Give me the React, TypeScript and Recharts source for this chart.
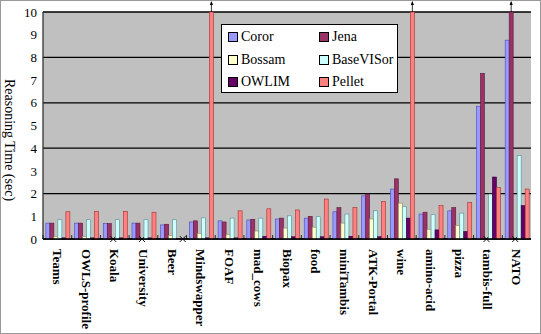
import React from "react";
import { Bar, BarChart, CartesianGrid, XAxis, YAxis } from "recharts";

const categories = [
  "Teams", "OWLS-profile", "Koala", "University", "Beer", "Mindswapper", "FOAF",
  "mad_cows", "Biopax", "food", "miniTambis", "ATK-Portal", "wine", "amino-acid",
  "pizza", "tambis-full", "NATO",
];

// null = not measured (drawn as a cross on the axis); values above 10 leave the axis
const coror = [0.7, 0.7, 0.68, 0.7, 0.62, 0.75, 0.8, 0.84, 0.88, 0.92, 1.2, 1.9, 2.2, 1.1, 1.24, 5.85, 8.76];
const jena = [0.7, 0.7, 0.68, 0.7, 0.65, 0.8, 0.75, 0.87, 0.92, 1.0, 1.38, 1.98, 2.65, 1.18, 1.38, 7.3, 10.8];
const bossam = [0.1, 0.1, null, null, 0.15, 0.25, 0.2, 0.35, 0.48, 0.52, 0.7, 0.88, 1.58, 0.43, 0.6, null, null];
const baseVISor = [0.85, 0.85, 0.85, 0.85, 0.85, 0.93, 0.92, 0.92, 1.02, 0.98, 1.1, 1.24, 1.42, 1.07, 1.14, 1.98, 3.67];
const owlim = [0.05, 0.05, 0.05, 0.05, 0.03, 0.05, 0.05, 0.12, 0.1, 0.1, 0.12, 0.1, 0.92, 0.4, 0.33, 2.73, 1.47];
const pellet = [1.2, 1.22, 1.22, 1.18, null, 10.8, 1.24, 1.33, 1.28, 1.76, 1.38, 1.65, 10.8, 1.47, 1.6, 2.27, 2.2];

const yTicks = [0, 1, 2, 3, 4, 5, 6, 7, 8, 9, 10];
const Y_MAX = 10;

const series = [
  { key: "Coror", values: coror, fill: "#9999FF", stroke: "#4A4AB0" },
  { key: "Jena", values: jena, fill: "#993366", stroke: "#5A1A3A" },
  { key: "Bossam", values: bossam, fill: "#FFFFCC", stroke: "#8A8A60" },
  { key: "BaseVISor", values: baseVISor, fill: "#CCFFFF", stroke: "#5A8A8A" },
  { key: "OWLIM", values: owlim, fill: "#660066", stroke: "#330033" },
  { key: "Pellet", values: pellet, fill: "#FF8080", stroke: "#A03030" },
];

const legendOrder = ["Coror", "Jena", "Bossam", "BaseVISor", "OWLIM", "Pellet"];

const data = categories.map((name, i) => {
  const row: Record<string, any> = { name };
  series.forEach((s) => {
    const v = s.values[i];
    row[s.key] = v == null ? 0 : Math.min(v, Y_MAX);
    row[s.key + "Missing"] = v == null;
    row[s.key + "Over"] = v != null && v > Y_MAX;
  });
  return row;
});

const W = 541;
const H = 334;
const PLOT_LEFT = 43;
const PLOT_RIGHT = 531;
const PLOT_BOTTOM = 239;
const font = "Liberation Serif";

const makeShape = (key: string, fill: string, stroke: string) => (props: any) => {
  const { x, y, width, height, payload } = props;
  const cx = x + width / 2;
  if (payload[key + "Missing"]) {
    return (
      <g stroke="#000" strokeWidth={0.9}>
        <line x1={cx - 3} y1={PLOT_BOTTOM - 3} x2={cx + 3} y2={PLOT_BOTTOM + 3} />
        <line x1={cx - 3} y1={PLOT_BOTTOM + 3} x2={cx + 3} y2={PLOT_BOTTOM - 3} />
      </g>
    );
  }
  return (
    <g>
      <rect x={x} y={y} width={width} height={height} fill={fill} stroke={stroke} strokeWidth={0.6} />
      {payload[key + "Over"] && (
        <g>
          <line x1={cx} y1={y} x2={cx} y2={y - 10} stroke="#000" strokeWidth={0.8} />
          <polygon points={`${cx - 1.6},${y - 7} ${cx + 1.6},${y - 7} ${cx},${y - 11}`} fill="#000" />
        </g>
      )}
    </g>
  );
};

const XTick = (props: any) => {
  const { x, payload } = props;
  const half = (PLOT_RIGHT - PLOT_LEFT) / categories.length / 2;
  return (
    <g>
      <line x1={x - half} y1={PLOT_BOTTOM} x2={x - half} y2={PLOT_BOTTOM - 4} stroke="#000" strokeWidth={0.8} />
      <text
        transform={`translate(${x}, ${PLOT_BOTTOM + 10}) rotate(90)`}
        textAnchor="start"
        dominantBaseline="central"
        style={{ fontFamily: font }}
        fontWeight="bold"
        fontSize={13}
        fill="#000"
      >
        {payload.value}
      </text>
    </g>
  );
};

const LegendBox = () => {
  const colors: Record<string, string> = {};
  series.forEach((s) => (colors[s.key] = s.fill));
  return (
    <div
      style={{
        position: "absolute",
        left: 221,
        top: 24,
        width: 177,
        height: 69,
        boxSizing: "border-box",
        background: "#fff",
        border: "1px solid #000",
        fontFamily: font,
        fontSize: 14,
        color: "#000",
      }}
    >
      {legendOrder.map((k, i) => (
        <div
          key={k}
          style={{
            position: "absolute",
            left: i % 2 === 0 ? 6 : 97,
            top: 3 + Math.floor(i / 2) * 22.5,
            display: "flex",
            alignItems: "center",
            lineHeight: "18px",
            whiteSpace: "nowrap",
          }}
        >
          <span
            style={{
              width: 8,
              height: 8,
              background: colors[k],
              border: "1px solid #000",
              marginRight: 3,
              display: "inline-block",
            }}
          />
          {k}
        </div>
      ))}
    </div>
  );
};

export default function App() {
  return (
    <div style={{ position: "absolute", left: 0, top: 0, width: W, height: H, background: "#fff", fontFamily: font }}>
      <BarChart
        width={W}
        height={H}
        data={data}
        margin={{ top: 12, right: W - PLOT_RIGHT, bottom: 0, left: 0 }}
        barGap={0}
        barCategoryGap="10%"
      >
        <CartesianGrid vertical={false} fill="#C0C0C0" stroke="#000" strokeWidth={1.3} />
        <XAxis
          dataKey="name"
          interval={0}
          height={H - PLOT_BOTTOM}
          tick={<XTick />}
          tickLine={false}
          axisLine={{ stroke: "#000", strokeWidth: 1.3 }}
        />
        <YAxis
          width={PLOT_LEFT}
          domain={[0, Y_MAX]}
          ticks={yTicks}
          tickLine={false}
          tickSize={4}
          tickMargin={2}
          axisLine={{ stroke: "#333", strokeWidth: 1.3 }}
          tick={{ fontFamily: font, fontSize: 13, fill: "#000" }}
          label={{
            content: () => (
              <text
                transform="translate(9, 140) rotate(90)"
                textAnchor="middle"
                dominantBaseline="central"
                style={{ fontFamily: font }}
                fontSize={14}
                fill="#000"
              >
                Reasoning Time (sec)
              </text>
            ),
          }}
        />
        {series.map((s) => (
          <Bar
            key={s.key}
            dataKey={s.key}
            fill={s.fill}
            isAnimationActive={false}
            shape={makeShape(s.key, s.fill, s.stroke)}
          />
        ))}
      </BarChart>
      <LegendBox />
      <div
        style={{
          position: "absolute",
          left: 0,
          top: 0,
          width: W,
          height: H,
          boxSizing: "border-box",
          border: "1px solid #999",
          pointerEvents: "none",
        }}
      />
    </div>
  );
}
